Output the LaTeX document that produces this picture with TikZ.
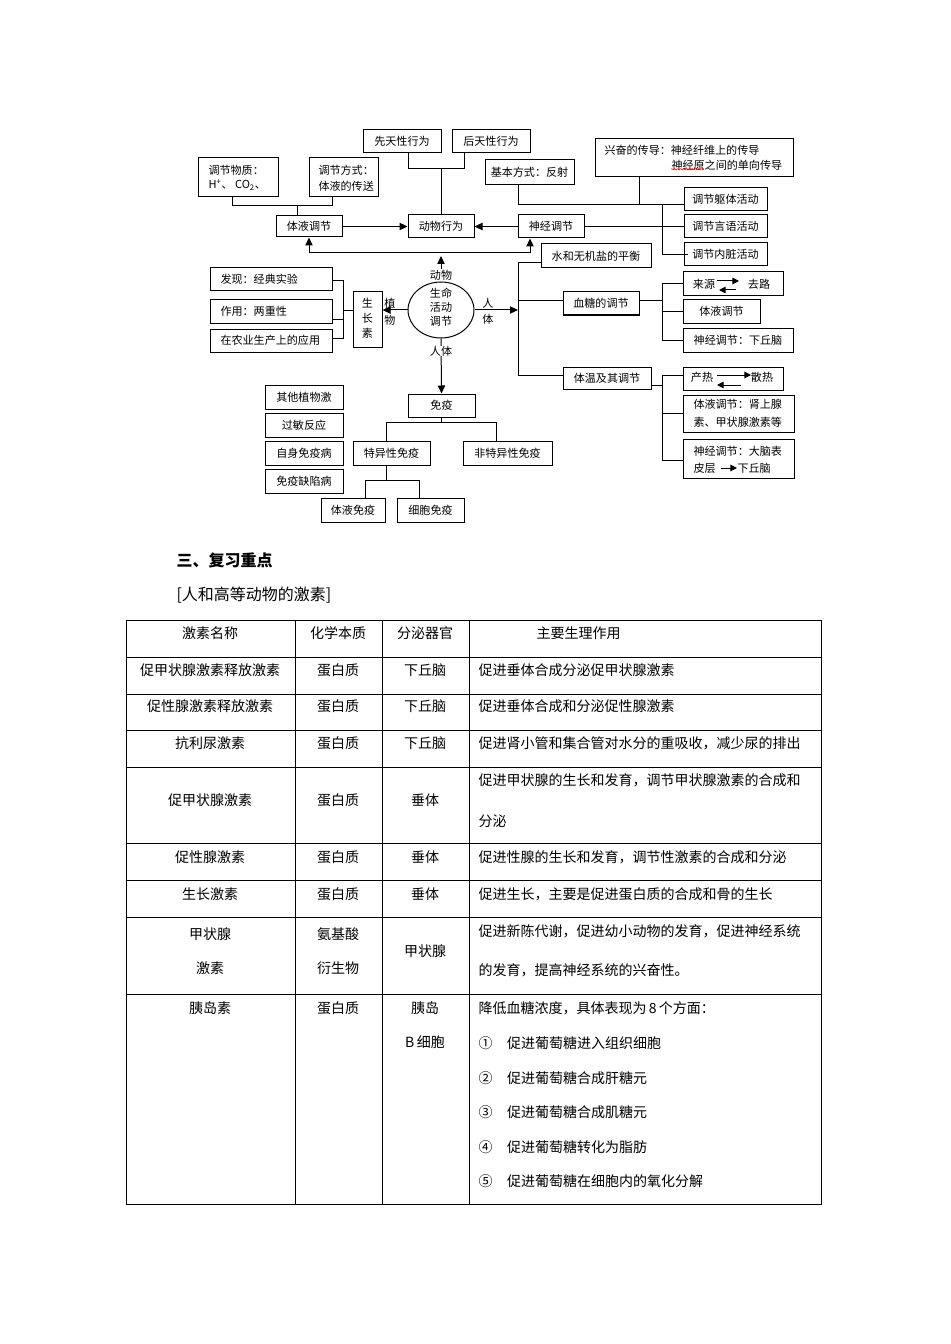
\documentclass[tikz,border=0pt]{standalone}
\usepackage{fontspec}
\setmainfont{Noto Sans CJK SC}
\usetikzlibrary{arrows.meta,shapes.geometric,decorations.pathmorphing}
\newcommand\dgf{\fontsize{8.3}{10}\selectfont}
\newcommand\tbf{\fontsize{10.5}{12}\selectfont}
\begin{document}
\begin{tikzpicture}[x=0.75pt,y=-0.75pt,line width=0.75pt,
  bx/.style={draw,inner sep=0pt,font=\dgf},
  wh/.style 2 args={minimum width=#1*0.75pt,minimum height=#2*0.75pt},
  lbl/.style={inner sep=0pt,font=\dgf},
  arr/.style={-{Triangle[length=6pt,width=5.5pt]}},
  sarr/.style={-{Triangle[length=5pt,width=5pt]}},
  tb/.style={inner sep=0pt,font=\tbf},
  tl/.style={line width=0.7pt}]
\fill[white] (0,0) rectangle (950,1344);
\useasboundingbox (0,0) rectangle (950,1344);

% ---------- top boxes ----------
\node[bx,wh={78}{23}] (xtx) at (402,141.5) {先天性行为};
\node[bx,wh={78}{23}] (htx) at (491,141.5) {后天性行为};
\node[bx,wh={80}{39}] (tjwz) at (238,177.5) {};
\node[lbl,anchor=west] (tjwz1) at (208,170) {调节物质：};
\node[lbl,anchor=west] (tjwz2) at (208,185) {H\textsuperscript{+}、 CO\textsubscript{2}、};
\node[bx,wh={69}{39}] (tjfs) at (343.5,177.5) {};
\node[lbl,anchor=west] (tjfs1) at (318,170) {调节方式：};
\node[lbl,anchor=west] (tjfs2) at (318,186) {体液的传送};
\node[bx,wh={66}{21}] (tytj) at (309,226.5) {体液调节};
\node[bx,wh={66}{23}] (dwxw) at (441,226.5) {动物行为};
\node[bx,wh={66}{23}] (sjtj) at (551,226.5) {神经调节};
\node[bx,wh={89}{25}] (jbfs) at (529.5,172.5) {基本方式：反射};
\node[bx,wh={198}{38}] (xfcd) at (694,158) {};
\node[lbl,anchor=west] (xfcd1) at (604,150) {兴奋的传导：神经纤维上的传导};
\node[lbl,anchor=west] (xfcd2) at (671,165) {神经原之间的单向传导};
\node[bx,wh={83}{23}] (qt) at (725.5,199.5) {调节躯体活动};
\node[bx,wh={83}{23}] (yy) at (725.5,226.5) {调节言语活动};
\node[bx,wh={83}{23}] (nz) at (725.5,254.5) {调节内脏活动};

% ---------- right side ----------
\node[bx,wh={110}{24}] (shui) at (596,256) {水和无机盐的平衡};
\node[bx,wh={76}{23}] (xt) at (601,303.5) {血糖的调节};
\node[bx,wh={100}{24}] (ly) at (733,284) {};
\node[lbl] (ly1) at (704,284) {来源};
\node[lbl] (ly2) at (759,284) {去路};
\node[bx,wh={77}{23}] (xtty) at (721.5,311.5) {体液调节};
\node[bx,wh={110}{24}] (xtsj) at (738,340) {神经调节：下丘脑};
\node[bx,wh={88}{22}] (tw) at (607,378) {体温及其调节};
\node[bx,wh={100}{23}] (crs) at (733,378.5) {};
\node[lbl] (crs1) at (702,377) {产热};
\node[lbl] (crs2) at (762,377) {散热};
\node[bx,wh={111}{37}] (twty) at (738.5,413.5) {};
\node[lbl,anchor=west] (twty1) at (693,404) {体液调节：肾上腺};
\node[lbl,anchor=west] (twty2) at (693,422) {素、甲状腺激素等};
\node[bx,wh={111}{39}] (twsj) at (738.5,458.5) {};
\node[lbl,anchor=west] (twsj1) at (693,451) {神经调节：大脑表};
\node[lbl,anchor=west] (twsj2) at (693,468) {皮层};
\node[lbl,anchor=west] (twsj3) at (737,468) {下丘脑};

% ---------- left side ----------
\node[bx,wh={122}{23}] (fx) at (271,279.5) {};
\node[lbl,anchor=west] (fx1) at (220,279.5) {发现：经典实验};
\node[bx,wh={122}{23}] (zy) at (271,311.5) {};
\node[lbl,anchor=west] (zy1) at (220,311.5) {作用：两重性};
\node[bx,wh={122}{23}] (ny) at (271,340.5) {};
\node[lbl,anchor=west] (ny1) at (220,340.5) {在农业生产上的应用};
\node[bx,wh={29}{55}] (szs) at (367.5,319.5) {};
\node[lbl] (szs1) at (367.5,303) {生};
\node[lbl] (szs2) at (367.5,318) {长};
\node[lbl] (szs3) at (367.5,333) {素};

% ---------- centre ----------
\node[draw,ellipse,inner sep=0pt,minimum width=66*0.75pt,minimum height=56*0.75pt] (ell) at (441,310) {};
\node[lbl] (e1) at (441,293) {生命};
\node[lbl] (e2) at (441,307) {活动};
\node[lbl] (e3) at (441,321) {调节};

% ---------- bottom ----------
\node[bx,wh={67}{23}] (my) at (441.5,405.5) {免疫};
\node[bx,wh={77}{24}] (tyx) at (391.5,453) {特异性免疫};
\node[bx,wh={89}{24}] (ftyx) at (507.5,453) {非特异性免疫};
\node[bx,wh={64}{24}] (tymy) at (353,510) {体液免疫};
\node[bx,wh={67}{24}] (xbmy) at (430.5,510) {细胞免疫};
\node[bx,wh={78}{24}] (qtzw) at (304,397) {其他植物激};
\node[bx,wh={78}{24}] (gm) at (304,425) {过敏反应};
\node[bx,wh={78}{24}] (zsmy) at (304,453) {自身免疫病};
\node[bx,wh={78}{24}] (mqx) at (304,481) {免疫缺陷病};

% ---------- connectors ----------
\draw (xtx.south -| 408,0) -- (408,169) -| (htx.south -| 464,0);
\draw (dwxw.north) -- (dwxw.north |- 0,169);
\draw (tjwz.south -| 232,0) -- (232,206) -| (tjfs.south -| 332,0);
\draw (tytj.north -| 297,0) -- (297,206);
\draw[arr] (tytj.east) -- (dwxw.west);
\draw[arr] (sjtj.west) -- (dwxw.east);

\node[lbl,fill=white,inner sep=0.3pt] (ldw) at (441,275) {动物};
\coordinate (hb) at (441,253);
\draw[arr] (ldw.north) -- (441,256);
\draw[arr] (hb) -| (tytj.south);
\draw[arr] (hb) -| (sjtj.south -| 530,0);

\draw (jbfs.south -| 518,0) -- (518,205) -| (xfcd.south -| 639,0);
\draw (639,205) -- (qt.west |- 0,205);
\draw (sjtj.east) -- (yy.west);
\draw (662,205) -- (662,254.5) -- ([xshift=3pt]nz.west);

\draw[arr] (ell.east) -- (518,310);
\draw (shui.west |- 0,263) -| (518,375) -- (tw.west |- 0,375);
\draw (518,301) -- (xt.west |- 0,301);
\draw (xt.east |- 0,301) -- (662,301);
\draw (ly.west) -| (662,340) -- (xtsj.west);
\draw (662,311.5) -- (xtty.west);
\draw (tw.east |- 0,385) -- (662,385);
\draw (crs.west |- 0,375) -| (662,460) -- (twsj.west |- 0,460);
\draw (662,413.5) -- (twty.west);

\coordinate (la1) at (717,281);
\coordinate (la2) at (739,281);
\coordinate (la3) at (736,290);
\coordinate (la4) at (719,290);
\draw[sarr] (la1) -- (la2);
\draw[sarr] (la3) -- (la4);
\coordinate (cr1) at (717,375);
\coordinate (cr2) at (751,375);
\coordinate (cr3) at (741,385);
\coordinate (cr4) at (717,385);
\draw[sarr] (cr1) -- (cr2);
\draw[sarr] (cr3) -- (cr4);
\draw[sarr] (twsj2.east) ++(4pt,0) -- (twsj3.west);

\draw (fx.east |- 0,281) -| (343,338) -- (ny.east |- 0,338);
\draw (zy.east |- 0,319) -- (343,319);
\draw (343,311) -- (szs.west |- 0,311);
\draw[arr] (ell.west) -- (szs.east |- 0,310);
\node[lbl] (lzw1) at (390,303) {植};
\node[lbl] (lzw2) at (390,320) {物};
\node[lbl] (lrt1) at (488,303) {人};
\node[lbl] (lrt2) at (488,319) {体};

\draw[arr] (ell.south) -- (my.north);
\node[lbl,fill=white,inner sep=0.3pt] (lrt) at (441,351) {人体};
\draw (my.south) -- (my.south |- 0,422);
\draw (tyx.north -| 386,0) -- (386,422) -| (ftyx.north -| 496,0);
\draw (tyx.south -| 386,0) -- (386,480);
\draw (tymy.north -| 365,0) -- (365,480) -| (xbmy.north -| 419,0);

\draw[red,line width=0.4pt,decorate,decoration={snake,amplitude=0.5pt,segment length=2.2pt}] (xfcd2.south west) ++(0,1pt) -- ++(33*0.75pt,0);

% ---------- heading ----------
\node[inner sep=0pt,anchor=west,font=\fontsize{12}{14}\selectfont\bfseries] (tt) at (176,560) {三、复习重点};
\node[inner sep=0pt,anchor=west,font=\fontsize{12}{14}\selectfont] (st) at (176,595) {[人和高等动物的激素]};

% ---------- table ----------
\draw[tl] (126,620) rectangle (821,1204);
\foreach \yy in {657,694,730,767,843,880,917,994} \draw[tl] (126,\yy) -- (821,\yy);
\foreach \xx in {295,382,469} \draw[tl] (\xx,620) -- (\xx,1204);

\node[tb] (h1) at (210,633) {激素名称};
\node[tb] (h2) at (338,633) {化学本质};
\node[tb] (h3) at (425,633) {分泌器官};
\node[tb,anchor=west] (h4) at (536,633) {主要生理作用};

\node[tb] (a1) at (210,670) {促甲状腺激素释放激素};
\node[tb] (b1) at (338,670) {蛋白质};
\node[tb] (c1) at (425,670) {下丘脑};
\node[tb,anchor=west] (d1) at (478,670) {促进垂体合成分泌促甲状腺激素};

\node[tb] (a2) at (210,706) {促性腺激素释放激素};
\node[tb] (b2) at (338,706) {蛋白质};
\node[tb] (c2) at (425,706) {下丘脑};
\node[tb,anchor=west] (d2) at (478,706) {促进垂体合成和分泌促性腺激素};

\node[tb] (a3) at (210,743) {抗利尿激素};
\node[tb] (b3) at (338,743) {蛋白质};
\node[tb] (c3) at (425,743) {下丘脑};
\node[tb,anchor=west] (d3) at (478,743) {促进肾小管和集合管对水分的重吸收，减少尿的排出};

\node[tb] (a4) at (210,800) {促甲状腺激素};
\node[tb] (b4) at (338,800) {蛋白质};
\node[tb] (c4) at (425,800) {垂体};
\node[tb,anchor=west] (d4a) at (478,780) {促进甲状腺的生长和发育，调节甲状腺激素的合成和};
\node[tb,anchor=west] (d4b) at (478,821) {分泌};

\node[tb] (a5) at (210,857) {促性腺激素};
\node[tb] (b5) at (338,857) {蛋白质};
\node[tb] (c5) at (425,857) {垂体};
\node[tb,anchor=west] (d5) at (478,857) {促进性腺的生长和发育，调节性激素的合成和分泌};

\node[tb] (a6) at (210,894) {生长激素};
\node[tb] (b6) at (338,894) {蛋白质};
\node[tb] (c6) at (425,894) {垂体};
\node[tb,anchor=west] (d6) at (478,894) {促进生长，主要是促进蛋白质的合成和骨的生长};

\node[tb] (a7a) at (210,934) {甲状腺};
\node[tb] (a7b) at (210,968) {激素};
\node[tb] (b7a) at (338,934) {氨基酸};
\node[tb] (b7b) at (338,968) {衍生物};
\node[tb] (c7) at (425,951) {甲状腺};
\node[tb,anchor=west] (d7a) at (478,931) {促进新陈代谢，促进幼小动物的发育，促进神经系统};
\node[tb,anchor=west] (d7b) at (478,970) {的发育，提高神经系统的兴奋性。};

\node[tb] (a8) at (210,1008) {胰岛素};
\node[tb] (b8) at (338,1008) {蛋白质};
\node[tb] (c8a) at (425,1008) {胰岛};
\node[tb] (c8b) at (425,1042) {B\,细胞};
\node[tb,anchor=west] (d8) at (478,1008) {降低血糖浓度，具体表现为\,8\,个方面：};
\node[tb,anchor=west] (d81) at (478,1043) {①\hspace{11pt}促进葡萄糖进入组织细胞};
\node[tb,anchor=west] (d82) at (478,1078) {②\hspace{11pt}促进葡萄糖合成肝糖元};
\node[tb,anchor=west] (d83) at (478,1112) {③\hspace{11pt}促进葡萄糖合成肌糖元};
\node[tb,anchor=west] (d84) at (478,1147) {④\hspace{11pt}促进葡萄糖转化为脂肪};
\node[tb,anchor=west] (d85) at (478,1181) {⑤\hspace{11pt}促进葡萄糖在细胞内的氧化分解};
\end{tikzpicture}
\end{document}
